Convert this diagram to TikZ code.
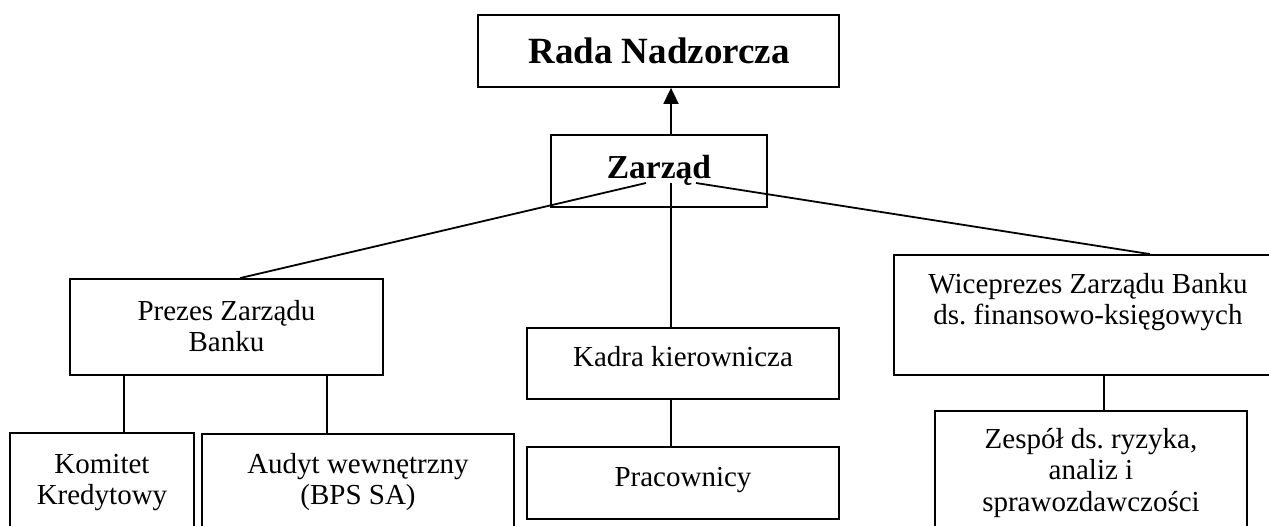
\documentclass[tikz,border=0pt]{standalone}
\usepackage{fontspec}
\setmainfont{Liberation Serif}
\usetikzlibrary{arrows.meta}
\frenchspacing
\begin{document}
\begin{tikzpicture}[x=1pt,y=-1pt,
  box/.style={draw, line width=1.8pt, inner sep=0pt},
  conn/.style={line width=1.8pt},
  txt/.style={inner sep=0pt, align=center, font=\fontsize{29}{31.5}\selectfont},
  bold/.style={inner sep=0pt, font=\fontsize{#1}{#1}\selectfont\bfseries}]
\useasboundingbox (0,0) rectangle (1269,525);
\clip (0,0) rectangle (1269,525);
\fill[white] (0,0) rectangle (1269,525);
% boxes
\node[box, minimum width=361pt, minimum height=72pt] (rada) at (658.5,51) {};
\node[box, minimum width=216pt, minimum height=72pt] (zarzad) at (659,171) {};
\node[box, minimum width=313pt, minimum height=96pt] (prezes) at (226.5,327) {};
\node[box, minimum width=312pt, minimum height=71pt] (kadra) at (683,363.5) {};
\node[box, minimum width=388pt, minimum height=120pt] (wice) at (1088,315) {};
\node[box, minimum width=184pt, minimum height=112pt] (komitet) at (102,489) {};
\node[box, minimum width=312pt, minimum height=111pt] (audyt) at (358,489.5) {};
\node[box, minimum width=312pt, minimum height=72pt] (prac) at (683,483) {};
\node[box, minimum width=312pt, minimum height=134pt] (zespol) at (1091,478) {};
% texts
\node[bold=37, anchor=base] (trada) at (659,63) {Rada Nadzorcza};
\node[bold=33.5, anchor=base] (tzarzad) at (659,178) {Zarząd};
\node[txt, anchor=north] (tprezes) at (226.5,298) {\strut Prezes Zarządu\\\strut Banku};
\node[txt, anchor=base] (tkadra) at (683,366) {Kadra kierownicza};
\node[txt, anchor=north] (twice) at (1088,271) {\strut Wiceprezes Zarządu Banku\\\strut ds. finansowo-księgowych};
\node[txt, anchor=north] (tkomitet) at (102,451) {\strut Komitet\\\strut Kredytowy};
\node[txt, anchor=north] (taudyt) at (358,451) {\strut Audyt wewnętrzny\\\strut (BPS SA)};
\node[txt, anchor=base] (tprac) at (683,486) {Pracownicy};
\node[txt, anchor=north] (tzespol) at (1091,426) {\strut Zespół ds. ryzyka,\\\strut analiz i\\\strut sprawozdawczości};
% connectors
\coordinate (zl) at (646,183);
\coordinate (zc) at (671,183);
\coordinate (zr) at (696,183);
\draw[conn, -{Triangle[width=15pt,length=16pt]}] ([xshift=12pt]zarzad.north) -- ([xshift=12pt]zarzad.north |- rada.south);
\draw[conn] (zl) -- ([xshift=13.5pt]prezes.north);
\draw[conn] (zc) -- (zc |- kadra.north);
\draw[conn] (zr) -- ([xshift=62pt]wice.north);
\draw[conn] ([xshift=-12pt]kadra.south) -- ([xshift=-12pt]prac.north);
\draw[conn] ([xshift=-102.5pt]prezes.south) -- ([xshift=-102.5pt]prezes.south |- komitet.north);
\draw[conn] ([xshift=100.5pt]prezes.south) -- ([xshift=100.5pt]prezes.south |- audyt.north);
\draw[conn] ([xshift=16pt]wice.south) -- ([xshift=16pt]wice.south |- zespol.north);
\end{tikzpicture}
\end{document}
